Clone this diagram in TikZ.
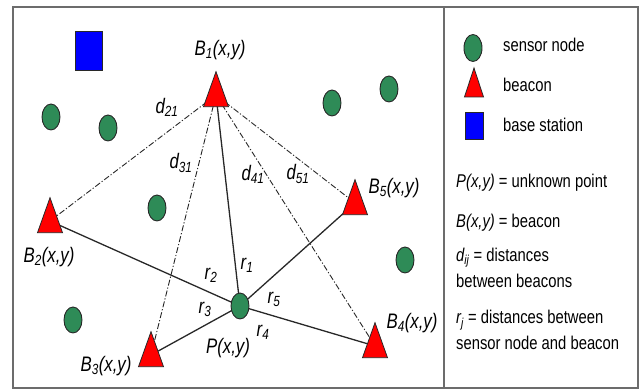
\documentclass[tikz,border=0pt]{standalone}
\usepackage{fontspec}
\setmainfont[FakeStretch=0.8]{Liberation Sans}
\usetikzlibrary{shapes.geometric}
\definecolor{sgreen}{RGB}{46,139,87}
\definecolor{edgec}{RGB}{40,40,40}
\tikzset{
  sensor/.style={ellipse, draw=edgec, fill=sgreen, line width=0.9pt, minimum width=18pt, minimum height=26pt, inner sep=0},
  lab/.style={font=\fontsize{21}{24}\selectfont\itshape, inner sep=0},
  leg/.style={font=\fontsize{18.5}{27}\selectfont, inner sep=0, anchor=base west},
  dd/.style={line width=0.9pt, edgec, dash pattern=on 6pt off 2pt on 1.2pt off 2pt},
  rr/.style={line width=1.3pt, edgec},
  beaconpic/.pic={\filldraw[fill=red, draw=edgec, line width=0.8pt] (0,-23.3) -- (12.5,11.7) -- (-12.5,11.7) -- cycle;},
  legtri/.pic={\filldraw[fill=red, draw=edgec, line width=0.8pt] (0,-19.3) -- (9.5,9.7) -- (-9.5,9.7) -- cycle;}
}
\begin{document}
\begin{tikzpicture}[x=1pt,y=-1pt]
\useasboundingbox (0,0) rectangle (641,390);
% frame
\draw[gray!85!black, line width=1.5pt] (13,7) rectangle (638,388);
\draw[gray!85!black, line width=1.5pt] (444,7) -- (444,388);

% positions
\coordinate (B1) at (216,95);
\coordinate (B2) at (50,221);
\coordinate (B3) at (151,355);
\coordinate (B4) at (375,346);
\coordinate (B5) at (355,203);
\coordinate (Pc) at (240,306);

% connectors
\draw[dd] (B1) -- (B2);
\draw[dd] (B1) -- (B3);
\draw[dd] (B1) -- (B4);
\draw[dd] (B1) -- (B5);
\draw[rr] (B1) -- (Pc);
\draw[rr] (Pc) -- (B2);
\draw[rr] (Pc) -- (B3);
\draw[rr] (Pc) -- (B4);
\draw[rr] (Pc) -- (B5);

% base station
\node[draw=edgec, fill=blue, line width=0.8pt, minimum width=27pt, minimum height=39pt, inner sep=0] (bs) at (88.5,50.5) {};

% sensors
\node[sensor] (s1) at (51,117) {};
\node[sensor] (s2) at (108,128) {};
\node[sensor] (s3) at (157,208) {};
\node[sensor] (s4) at (73,320) {};
\node[sensor] (s5) at (332,103) {};
\node[sensor] (s6) at (389,89) {};
\node[sensor] (s7) at (405,260) {};
\node[sensor] (P) at (Pc) {};

% beacons
\pic at (B1) {beaconpic};
\pic at (B2) {beaconpic};
\pic at (B3) {beaconpic};
\pic at (B4) {beaconpic};
\pic at (B5) {beaconpic};

% labels
\node[lab] (lB1) at (220,50) {B\textsubscript{1}(x,y)};
\node[lab] (lB2) at (49,257) {B\textsubscript{2}(x,y)};
\node[lab] (lB3) at (106,366) {B\textsubscript{3}(x,y)};
\node[lab] (lB4) at (412,323) {B\textsubscript{4}(x,y)};
\node[lab] (lB5) at (394,188) {B\textsubscript{5}(x,y)};
\node[lab] (lP) at (228,348) {P(x,y)};
\node[lab] (d21) at (167,107) {d\textsubscript{21}};
\node[lab] (d31) at (181,163) {d\textsubscript{31}};
\node[lab] (d41) at (253,174) {d\textsubscript{41}};
\node[lab] (d51) at (298,174) {d\textsubscript{51}};
\node[lab] (r1) at (247,265) {r\textsubscript{1}};
\node[lab] (r2) at (211,275) {r\textsubscript{2}};
\node[lab] (r3) at (205,309) {r\textsubscript{3}};
\node[lab] (r4) at (263,332) {r\textsubscript{4}};
\node[lab] (r5) at (274,299) {r\textsubscript{5}};

% legend
\node[ellipse, draw=edgec, fill=sgreen, line width=0.9pt, minimum width=18pt, minimum height=27pt, inner sep=0] (lgS) at (473,48) {};
\coordinate (lgB) at (474,87.3);
\pic at (lgB) {legtri};
\node[draw=edgec, fill=blue, line width=0.8pt, minimum width=18pt, minimum height=27pt, inner sep=0] (lgBS) at (474,125.5) {};
\node[leg] (t1) at (503,51.5) {sensor node};
\node[leg] (t2) at (503,92) {beacon};
\node[leg] (t3) at (503,131.5) {base station};
\node[leg] (t4) at (456,187.5) {\textit{P(x,y)} = unknown point};
\node[leg] (t5) at (456,227.5) {\textit{B(x,y)} = beacon};
\node[leg] (t6) at (456,261.5) {\textit{d\textsubscript{ij}} = distances};
\node[leg] (t7) at (456,288) {between beacons};
\node[leg] (t8) at (456,324) {\textit{r\textsubscript{j}} = distances between};
\node[leg] (t9) at (456,350) {sensor node and beacon};
\end{tikzpicture}
\end{document}
